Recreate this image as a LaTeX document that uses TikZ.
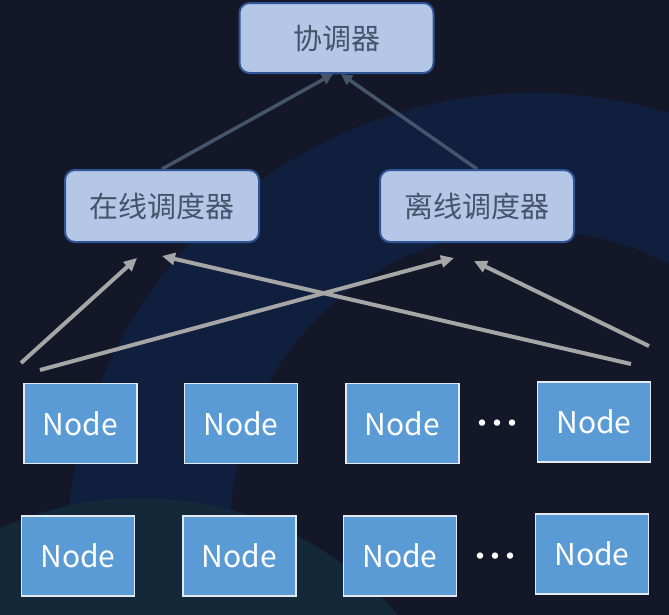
\documentclass[tikz,border=0pt]{standalone}
\usepackage{fontspec}
\setmainfont{Noto Sans CJK SC}
\usetikzlibrary{arrows.meta}
\definecolor{bgdark}{HTML}{141728}
\definecolor{bgband}{HTML}{111F3F}
\definecolor{bgteal}{HTML}{13293A}
\definecolor{schedfill}{HTML}{B4C7E7}
\definecolor{schedline}{HTML}{2F5597}
\definecolor{schedtext}{HTML}{44546A}
\definecolor{nodefill}{HTML}{5B9BD5}
\definecolor{nodeline}{HTML}{E4EAF2}
\definecolor{uparrowcol}{HTML}{44546A}
\definecolor{arrowgray}{HTML}{A6A6A6}
\begin{document}
\begin{tikzpicture}[x=1pt,y=-1pt,
  sched/.style={draw=schedline, line width=2pt, fill=schedfill, rounded corners=10pt,
    minimum width=194pt, minimum height=70pt, text=schedtext,
    font=\fontsize{29}{32}\selectfont, inner sep=0pt},
  worker/.style={draw=nodeline, line width=1.5pt, fill=nodefill,
    minimum width=113pt, minimum height=80pt, text=white,
    font=\fontsize{30}{34}\selectfont, inner sep=0pt},
  ellip/.style={text=white, font=\fontsize{30}{34}\selectfont, inner sep=0pt},
  toparrow/.style={draw=uparrowcol, line width=3.5pt, -{Triangle[length=11pt,width=11pt]}},
  feedarrow/.style={draw=arrowgray, line width=4pt, -{Triangle[length=13pt,width=12pt]}}
]
\useasboundingbox (0,0) rectangle (669,614);
% background
\begin{scope}
  \clip (0,0) rectangle (669,614);
  \fill[bgdark] (0,0) rectangle (669,614);
  \fill[bgband] (533,560) circle[radius=467];
  \fill[bgdark] (530,530) circle[radius=300];
  \fill[bgteal] (141,838) circle[radius=340];
\end{scope}

% schedulers
\node[sched] (coord) at (336.5,38) {协调器};
\node[sched, minimum height=72pt] (online) at (162,206) {在线调度器};
\node[sched, minimum height=72pt] (offline) at (477,206) {离线调度器};

% worker nodes
\node[worker] (n11) at (80.5,423.5) {Node};
\node[worker] (n12) at (241,423.5) {Node};
\node[worker] (n13) at (402.5,423.5) {Node};
\node[ellip]  (d1)  at (497,427) {·\hspace{-15pt}·\hspace{-15pt}·};
\node[worker] (n14) at (594,422) {Node};
\node[worker] (n21) at (78,556) {Node};
\node[worker] (n22) at (239.5,556) {Node};
\node[worker] (n23) at (400,556) {Node};
\node[ellip]  (d2)  at (495,560) {·\hspace{-15pt}·\hspace{-15pt}·};
\node[worker] (n24) at (592,554) {Node};

% upward arrows to coordinator
\draw[toparrow] (online.north) -- ([xshift=-3.5pt]coord.south);
\draw[toparrow] (offline.north) -- ([xshift=4.5pt]coord.south);

% free-ended feed arrows
\coordinate (s1) at (21,363);
\coordinate (s2) at (40,370);
\coordinate (s3) at (631,364);
\coordinate (s4) at (649,346);
\coordinate (t1) at ([shift={(-25,15)}]online.south);
\coordinate (t2) at ([shift={(-23,15)}]offline.south);
\coordinate (t3) at ([shift={(0,13)}]online.south);
\coordinate (t4) at ([shift={(-3,18)}]offline.south);
\draw[feedarrow] (s1) -- (t1);
\draw[feedarrow] (s2) -- (t2);
\draw[feedarrow] (s3) -- (t3);
\draw[feedarrow] (s4) -- (t4);
\end{tikzpicture}
\end{document}
